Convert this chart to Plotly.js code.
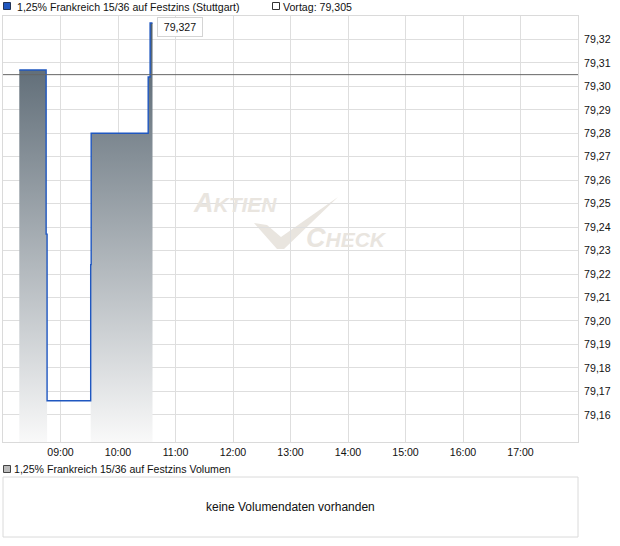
<!DOCTYPE html>
<html>
<head>
<meta charset="utf-8">
<script src="https://cdn.plot.ly/plotly-3.0.1.min.js"></script>
<style>
  html, body { margin: 0; padding: 0; background: #fff; }
  #chart { width: 620px; height: 546px; }
</style>
</head>
<body>
<div id="chart"></div>
<script>
// ---- data ----
const tradeDay = '2024-01-02';
const times = ['08:17', '08:45', '08:46', '09:31:30', '09:32', '10:31:30', '10:33:30', '10:36'];
const prices = [79.307, 79.237, 79.166, 79.224, 79.280, 79.304, 79.327, 79.327];
const prevClose = 79.305;
const hourTicks = ['09:00', '10:00', '11:00', '12:00', '13:00', '14:00', '15:00', '16:00', '17:00'];
const priceTicks = [79.16, 79.17, 79.18, 79.19, 79.20, 79.21, 79.22, 79.23, 79.24,
                    79.25, 79.26, 79.27, 79.28, 79.29, 79.30, 79.31, 79.32];
const axisStart = '08:00';
const axisEnd = '18:00';
const priceMin = 79.1484;
const priceMax = 79.330;
const seriesName = '1,25% Frankreich 15/36 auf Festzins (Stuttgart)';
const prevName = 'Vortag';
const volumeName = '1,25% Frankreich 15/36 auf Festzins Volumen';
const noVolumeText = 'keine Volumendaten vorhanden';

// ---- helpers ----
const FONT = 'Liberation Sans, Arial, sans-serif';
const FS = 10.6;
const W = 620, H = 546, ML = 3, MR = 42, MT = 16, MB = 9;
const PW = W - ML - MR, PH = H - MT - MB;
const px = x => (x - ML) / PW;
const py = y => (H - MB - y) / PH;
const fmt = (v, d) => v.toFixed(d).replace('.', ',');
const ts = t => tradeDay + ' ' + t;

const X = times.map(ts);
const n = prices.length;
const minPrice = Math.min(...prices);

// fill runs: step segments, skipping segments at the session low
const runs = [];
let run = null;
for (let i = 0; i < n - 1; i++) {
  if (prices[i] === minPrice) { if (run) { runs.push(run); run = null; } continue; }
  if (!run) run = { x: [], y: [] };
  run.x.push(X[i], X[i + 1]);
  run.y.push(prices[i], prices[i]);
}
if (run) runs.push(run);

const data = runs.map(r => ({
  type: 'scatter', mode: 'lines', x: r.x, y: r.y,
  fill: 'tozeroy', line: { width: 0, color: 'rgba(0,0,0,0)' },
  fillgradient: {
    type: 'vertical', start: priceMin, stop: priceMax,
    colorscale: [[0, '#f9f9f9'], [1, '#4c5b67']]
  },
  hoverinfo: 'skip', showlegend: false
}));

data.push({
  type: 'scatter', mode: 'lines', x: X, y: prices, name: seriesName,
  line: { shape: 'hv', color: '#1f57c0', width: 1.4 },
  showlegend: false
});

// watermark check mark (pixel polygon -> paper)
const checkPts = [[254, 223], [267, 225], [281, 237], [338, 197], [284, 249], [277, 249]];
const checkPath = 'M ' + checkPts.map(p => px(p[0]) + ',' + py(p[1])).join(' L ') + ' Z';

const wmColor = '#e9e5df';
const txt = { family: FONT, size: FS, color: '#111' };

const layout = {
  width: W, height: H,
  margin: { l: ML, r: MR, t: MT, b: MB, pad: 0 },
  paper_bgcolor: '#fff', plot_bgcolor: '#fff',
  separators: ',.',
  font: txt,
  showlegend: false,
  xaxis: {
    type: 'date', range: [ts(axisStart), ts(axisEnd)],
    tickvals: hourTicks.map(ts), ticktext: hourTicks,
    showgrid: true, gridcolor: '#dedede', gridwidth: 1,
    showline: true, mirror: true, linecolor: '#dadada', linewidth: 1,
    ticks: '', zeroline: false, tickfont: txt, fixedrange: true
  },
  yaxis: {
    domain: [py(442), 1], range: [priceMin, priceMax], side: 'right',
    tickvals: priceTicks, tickformat: '.2f',
    showgrid: true, gridcolor: '#dedede', gridwidth: 1,
    showline: true, mirror: true, linecolor: '#dadada', linewidth: 1,
    ticks: '', zeroline: false, ticklabelstandoff: 3,
    tickfont: txt, fixedrange: true
  },
  shapes: [
    { type: 'line', xref: 'paper', yref: 'y', x0: 0, x1: 1, y0: prevClose, y1: prevClose,
      line: { color: '#666', width: 1 } },
    { type: 'path', xref: 'paper', yref: 'paper', path: checkPath,
      fillcolor: wmColor, line: { width: 0 }, layer: 'below' },
    // volume panel frame
    { type: 'rect', xref: 'paper', yref: 'paper', x0: 0, x1: 1, y0: py(537), y1: py(477),
      fillcolor: 'rgba(0,0,0,0)', line: { color: '#dadada', width: 1 } },
    // legend swatches
    { type: 'rect', xref: 'paper', yref: 'paper', x0: px(3.5), x1: px(10.5), y0: py(9.5), y1: py(2.5),
      fillcolor: '#1f57c0', line: { color: '#223355', width: 1 } },
    { type: 'rect', xref: 'paper', yref: 'paper', x0: px(272.5), x1: px(279.5), y0: py(9.5), y1: py(2.5),
      fillcolor: '#fff', line: { color: '#333', width: 1 } },
    { type: 'rect', xref: 'paper', yref: 'paper', x0: px(3.5), x1: px(10.5), y0: py(472.5), y1: py(465.5),
      fillcolor: '#bbb', line: { color: '#444', width: 1 } }
  ],
  annotations: [
    { xref: 'paper', yref: 'paper', x: px(15), y: py(6.5), xanchor: 'left', yanchor: 'middle',
      text: seriesName, showarrow: false, font: txt },
    { xref: 'paper', yref: 'paper', x: px(281), y: py(6.5), xanchor: 'left', yanchor: 'middle',
      text: prevName + ': ' + fmt(prevClose, 3), showarrow: false, font: txt },
    { xref: 'paper', yref: 'paper', x: px(12), y: py(469), xanchor: 'left', yanchor: 'middle',
      text: volumeName, showarrow: false, font: txt },
    { xref: 'paper', yref: 'paper', x: 0.5, y: py(507), xanchor: 'center', yanchor: 'middle',
      text: noVolumeText, showarrow: false, font: { family: FONT, size: 12, color: '#111' } },
    { xref: 'x', yref: 'y', x: X[n - 1], y: prices[n - 1], xanchor: 'left', yanchor: 'middle',
      xshift: 4, yshift: -4, text: fmt(prices[n - 1], 3), showarrow: false,
      width: 40, height: 14, align: 'center',
      bgcolor: '#fff', bordercolor: '#d4d4d4', borderwidth: 1, borderpad: 2,
      font: txt },
    // watermark
    { xref: 'paper', yref: 'paper', x: px(191), y: py(203), xanchor: 'left', yanchor: 'middle',
      text: '<b><i><span style="font-size:27px">A</span>KTIEN</i></b>', showarrow: false,
      font: { family: FONT, size: 21, color: wmColor } },
    { xref: 'paper', yref: 'paper', x: px(304), y: py(238), xanchor: 'left', yanchor: 'middle',
      text: '<b><i><span style="font-size:27px">C</span>HECK</i></b>', showarrow: false,
      font: { family: FONT, size: 21, color: wmColor } }
  ]
};

Plotly.newPlot('chart', data, layout, { displayModeBar: false, staticPlot: true });
</script>
</body>
</html>
